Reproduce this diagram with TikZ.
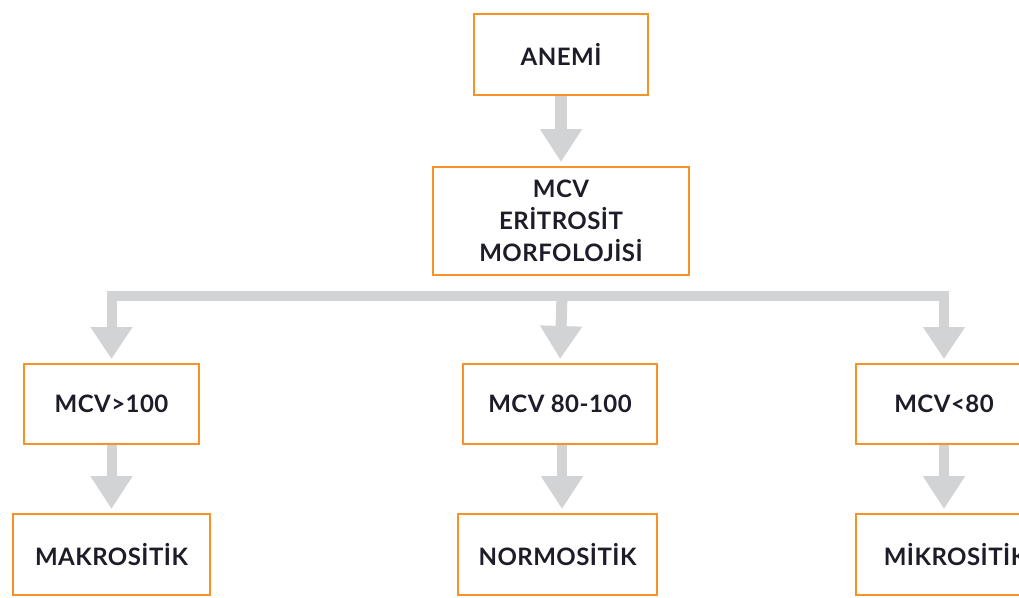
\documentclass[tikz,border=0pt]{standalone}
\usepackage{fontspec}
\setmainfont{Lato}[LetterSpace=2.0]
\usepackage{tikz}
\usetikzlibrary{arrows.meta}
\definecolor{ffqqbb}{RGB}{247,146,40}
\definecolor{ddddee}{RGB}{209,211,212}
\definecolor{ttqqtt}{RGB}{30,28,40}

\begin{document}
\begin{tikzpicture}[x=1pt,y=-1pt,line join=miter,
    box/.style={draw=ffqqbb,line width=2pt,fill=white,align=center,text=ttqqtt,
      font=\fontsize{24}{32}\selectfont\bfseries,inner sep=0pt,minimum height=80pt},
    arr/.style={draw=ddddee,line width=11pt,
      -{Triangle[width=40pt,length=33pt]},shorten >=4pt}]
    \useasboundingbox (0,0) rectangle (1019,597);
    % boxes
    \node[box,minimum width=174pt,minimum height=81pt] (anemi) at (561,54.5) {ANEM\.I};
    \node[box,minimum width=256pt,minimum height=108pt] (mcv) at (561,221) {MCV\\ER\.ITROS\.IT\\MORFOLOJ\.IS\.I};
    \node[box,minimum width=175pt] (hi) at (111.5,404) {MCV>100};
    \node[box,minimum width=194pt] (mid) at (560,404) {MCV 80-100};
    \node[box,minimum width=176pt] (lo) at (944,404) {MCV<80};
    \node[box,minimum width=197pt,minimum height=81pt] (makro) at (111.5,554.5) {MAKROS\.IT\.IK};
    \node[box,minimum width=199pt,minimum height=81pt] (normo) at (557.5,554.5) {NORMOS\.IT\.IK};
    \node[box,minimum width=199pt,minimum height=81pt] (mikro) at (955.5,554.5) {M\.IKROS\.IT\.IK};
    \coordinate (bar) at (562,296);
    % arrows
    \draw[arr,line width=12pt] (anemi) -- (mcv);
    \draw[arr,line width=10pt,{Triangle[width=40pt,length=32pt]}-{Triangle[width=40pt,length=32pt]},shorten <=4pt]
      (hi.north) |- (bar) -| (lo.north);
    \draw[arr,line width=11pt] (bar) -- (mid.north);
    \draw[arr,line width=10pt] (hi) -- (makro);
    \draw[arr,line width=10pt] (mid.south -| bar) -- (normo.north -| bar);
    \draw[arr,line width=10pt] (lo) -- (mikro.north -| lo);
\end{tikzpicture}
\end{document}
